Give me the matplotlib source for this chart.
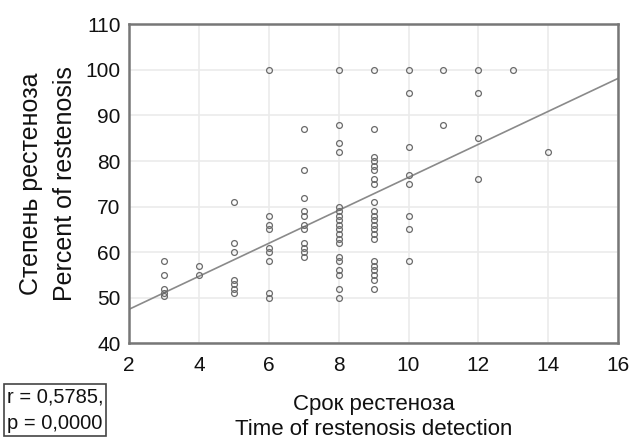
import numpy as np
import matplotlib.pyplot as plt

plt.rcParams['font.family'] = ['Liberation Sans', 'DejaVu Sans']

# restenosis term (x) and percent of restenosis (y), grouped by x
x_groups = [3, 4, 5, 6, 7, 8, 9, 10, 11, 12, 13, 14]
y_groups = [
    [58, 55, 52, 51, 50.5],
    [57, 55],
    [71, 62, 60, 54, 53, 52, 51],
    [100, 68, 66, 65, 61, 60, 58, 51, 50],
    [87, 78, 72, 69, 68, 66, 65, 62, 61, 60, 59],
    [100, 88, 84, 82, 70, 69, 68, 67, 66, 65, 64, 63, 62, 59, 58, 56, 55, 52, 50],
    [100, 87, 81, 80, 79, 78, 76, 75, 71, 69, 68, 67, 66, 65, 64, 63, 58, 57, 56, 55, 54, 52],
    [100, 95, 83, 77, 75, 68, 65, 58],
    [100, 88],
    [100, 95, 85, 76],
    [100],
    [82],
]

x = np.concatenate([[xv] * len(ys) for xv, ys in zip(x_groups, y_groups)])
y = np.concatenate([np.array(ys, dtype=float) for ys in y_groups])

fig = plt.figure(figsize=(6.34, 4.42), dpi=100)
ax = fig.add_axes([0.2035, 0.223, 0.7715, 0.722])

ax.grid(True, color='#ebebeb', lw=1.2)
ax.set_axisbelow(True)

# linear fit
slope, intercept = np.polyfit(x, y, 1)
xl = np.array([2, 16])
ax.plot(xl, intercept + slope * xl, color='#8a8a8a', lw=1.2, zorder=2)

ax.plot(x, y, 'o', ms=4.2, mfc='none', mec='#6a6a6a', mew=0.9, zorder=3)

ax.set_xlim(2, 16)
ax.set_ylim(40, 110)
ax.set_xticks(np.arange(2, 17, 2))
ax.set_yticks(np.arange(40, 111, 10))
ax.tick_params(length=0, labelsize=15, colors='#111111')
ax.tick_params(axis='x', pad=9)
ax.tick_params(axis='y', pad=6)
for s in ax.spines.values():
    s.set_color('#777777')
    s.set_linewidth(1.8)

ax.set_xlabel('Срок рестеноза\nTime of restenosis detection', fontsize=16,
              labelpad=14, color='#111111', linespacing=1.2)
ax.set_ylabel('Степень рестеноза\nPercent of restenosis', fontsize=18,
              labelpad=6, color='#111111', linespacing=1.55)

fig.text(0.011, 0.03, 'r = 0,5785,\np = 0,0000', fontsize=14.5, color='#111111',
         linespacing=1.5,
         bbox=dict(boxstyle='square,pad=0.15', fc='white', ec='#444444', lw=1.2))

plt.savefig('out.png', dpi=100)
